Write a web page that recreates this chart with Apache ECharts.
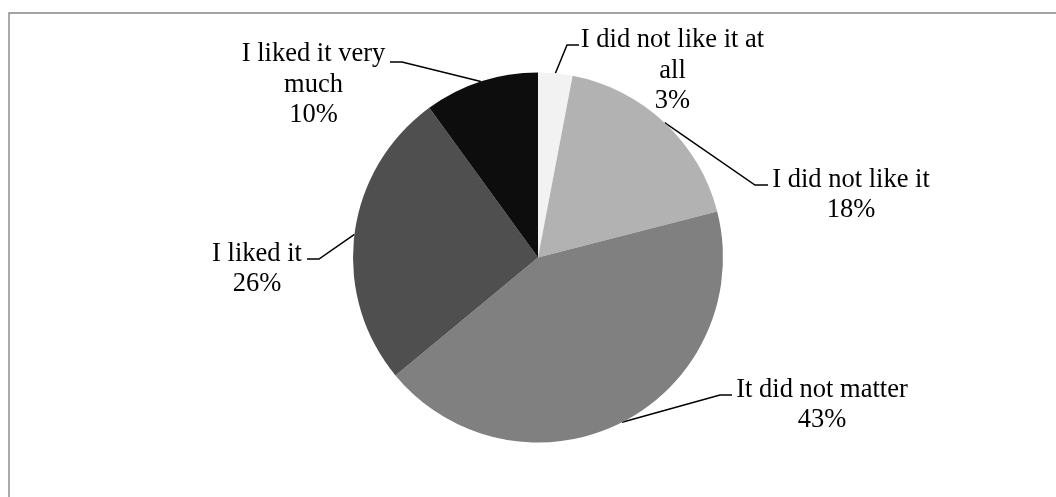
<!DOCTYPE html>
<html><head><meta charset="utf-8">
<script src="https://cdn.jsdelivr.net/npm/echarts@6/dist/echarts.min.js"></script>
<style>html,body{margin:0;padding:0;background:#fff}#c{width:1056px;height:497px}</style>
</head><body><div id="c"></div>
<script>
// ---- data ----
const categories = ['I did not like it at all', 'I did not like it', 'It did not matter', 'I liked it', 'I liked it very much'];
const values = [3, 18, 43, 26, 10];
const wrappedNames = ['I did not like it at\nall', 'I did not like it', 'It did not matter', 'I liked it', 'I liked it very\nmuch'];

// ---- styles / layout ----
const colors = ['#f2f2f2', '#b2b2b2', '#808080', '#4f4f4f', '#0d0d0d'];
const CX = 538, CY = 257.5, R = 185;
const labelSpots = [
  { x: 672.5, y: 71, bend: [567, 45], end: [579, 45] },
  { x: 851, y: 195, bend: [755, 185], end: [768, 185] },
  { x: 822, y: 405, bend: [720, 395], end: [732, 395] },
  { x: 257, y: 269, bend: [319, 259], end: [307, 259] },
  { x: 313.5, y: 85, bend: [402, 62], end: [390, 62] }
];

const total = values.reduce((a, b) => a + b, 0);
function edgePoint(i) {
  let before = 0;
  for (let k = 0; k < i; k++) before += values[k];
  const mid = (before + values[i] / 2) / total * 2 * Math.PI; // clockwise from top
  return [CX + R * Math.sin(mid), CY - R * Math.cos(mid)];
}

const chart = echarts.init(document.getElementById('c'), null, { renderer: 'canvas' });
chart.setOption({
  animation: false,
  backgroundColor: '#ffffff',
  graphic: [{
    type: 'rect', silent: true, z: -1,
    shape: { x: 9, y: 13, width: 1200, height: 700 },
    style: { fill: 'none', stroke: '#878787', lineWidth: 1.4 }
  }],
  series: [{
    type: 'pie',
    center: [CX, CY],
    radius: R,
    startAngle: 90,
    clockwise: true,
    avoidLabelOverlap: false,
    emphasis: { disabled: true },
    itemStyle: { borderWidth: 0 },
    label: {
      show: true,
      position: 'outside',
      fontFamily: 'Liberation Serif',
      fontSize: 26.5,
      lineHeight: 30.5,
      color: '#000',
      align: 'center',
      formatter: p => wrappedNames[p.dataIndex] + '\n' + p.value + '%'
    },
    labelLine: { show: true, lineStyle: { color: '#000', width: 1.5 } },
    labelLayout: p => {
      const s = labelSpots[p.dataIndex];
      return {
        x: s.x, y: s.y, align: 'center', verticalAlign: 'middle',
        labelLinePoints: [edgePoint(p.dataIndex), s.bend, s.end]
      };
    },
    data: categories.map((c, i) => ({ name: c, value: values[i], itemStyle: { color: colors[i] } }))
  }]
});
</script></body></html>
